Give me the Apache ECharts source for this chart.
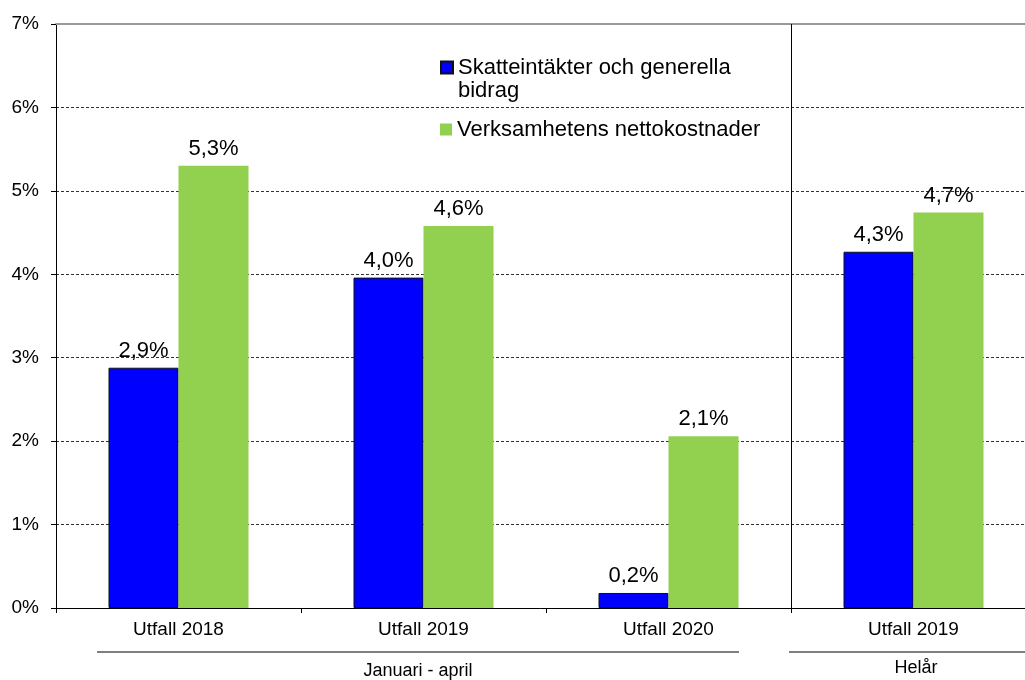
<!DOCTYPE html>
<html>
<head>
<meta charset="utf-8">
<script src="https://cdn.jsdelivr.net/npm/echarts@6/dist/echarts.min.js"></script>
<style>html,body{margin:0;padding:0;background:#fff}#c{width:1025px;height:680px}</style>
</head>
<body>
<div id="c"></div>
<script>
const categories = ['Utfall 2018', 'Utfall 2019', 'Utfall 2020', 'Utfall 2019'];
const seriesNames = ['Skatteintäkter och generella\nbidrag', 'Verksamhetens nettokostnader'];
const skatteintakter = [2.88, 3.96, 0.18, 4.27];
const nettokostnader = [5.30, 4.58, 2.06, 4.74];
const groupLabels = ['Januari - april', 'Helår'];
const yTicks = [0, 1, 2, 3, 4, 5, 6, 7];
const separatorAt = [3];

const FONT = '"Liberation Sans", Arial, sans-serif';
const fmt = v => v.toFixed(1).replace('.', ',') + '%';

const chart = echarts.init(document.getElementById('c'), null, {renderer: 'canvas'});
const labelCfg = {show: true, position: 'top', distance: 6, color: '#000', fontSize: 22, fontFamily: FONT,
  formatter: p => fmt(p.value)};

chart.setOption({
  animation: false,
  backgroundColor: '#fff',
  grid: {left: 56, top: 24, height: 584, width: 980, containLabel: false, outerBoundsMode: 'none'},
  legend: [
    {data: [seriesNames[0]], left: 440, top: 33, padding: 0,
     itemWidth: 12, itemHeight: 12, icon: 'rect',
     formatter: n => ' \n' + n,
     textStyle: {fontSize: 22, fontFamily: FONT, color: '#000', lineHeight: 23}},
    {data: [seriesNames[1]], left: 440, top: 118, padding: 0,
     itemWidth: 12, itemHeight: 12, icon: 'rect',
     textStyle: {fontSize: 22, fontFamily: FONT, color: '#000', lineHeight: 23}}
  ],
  xAxis: [
    {type: 'category', data: categories, position: 'bottom',
     axisLine: {lineStyle: {color: '#000', width: 1}},
     axisTick: {show: true, length: 5, lineStyle: {color: '#000'}},
     axisLabel: {fontSize: 19, fontFamily: FONT, color: '#000', margin: 12}},
    {type: 'category', data: categories, position: 'top',
     axisLine: {lineStyle: {color: '#999', width: 2}},
     axisTick: {show: false}, axisLabel: {show: false}},
    {type: 'value', min: 0, max: categories.length, show: false}
  ],
  yAxis: {type: 'value', min: 0, max: 7, interval: 1,
    axisLine: {show: true, lineStyle: {color: '#000'}},
    axisTick: {show: true, length: 5, lineStyle: {color: '#000'}},
    axisLabel: {fontSize: 19, fontFamily: FONT, color: '#000', margin: 17,
      formatter: v => yTicks.includes(v) ? v + '%' : ''},
    splitLine: {show: true, lineStyle: {color: '#333', type: [3, 2], width: 1}}},
  series: [
    {name: seriesNames[0], type: 'bar', data: skatteintakter, barWidth: 70, barGap: '0%',
     itemStyle: {color: '#0000FF', borderColor: '#111', borderWidth: 1}, label: labelCfg},
    {name: seriesNames[1], type: 'bar', data: nettokostnader, barWidth: 70, barGap: '0%',
     itemStyle: {color: '#92D050'}, label: labelCfg},
    {name: 'sep', type: 'line', xAxisIndex: 2, data: [], silent: true,
     markLine: {symbol: 'none', silent: true, label: {show: false},
       lineStyle: {color: '#000', width: 1, type: 'solid'},
       data: separatorAt.map(v => ({xAxis: v}))}}
  ],
  graphic: [
    {type: 'line', shape: {x1: 97, y1: 652, x2: 739, y2: 652}, style: {stroke: '#555', lineWidth: 1.5}},
    {type: 'line', shape: {x1: 789, y1: 652, x2: 1025, y2: 652}, style: {stroke: '#555', lineWidth: 1.5}},
    {type: 'text', x: 418, y: 671, style: {text: groupLabels[0], fontSize: 18, fontFamily: FONT, fill: '#000', align: 'center', verticalAlign: 'middle'}},
    {type: 'text', x: 916, y: 668, style: {text: groupLabels[1], fontSize: 18, fontFamily: FONT, fill: '#000', align: 'center', verticalAlign: 'middle'}}
  ]
});
</script>
</body>
</html>
